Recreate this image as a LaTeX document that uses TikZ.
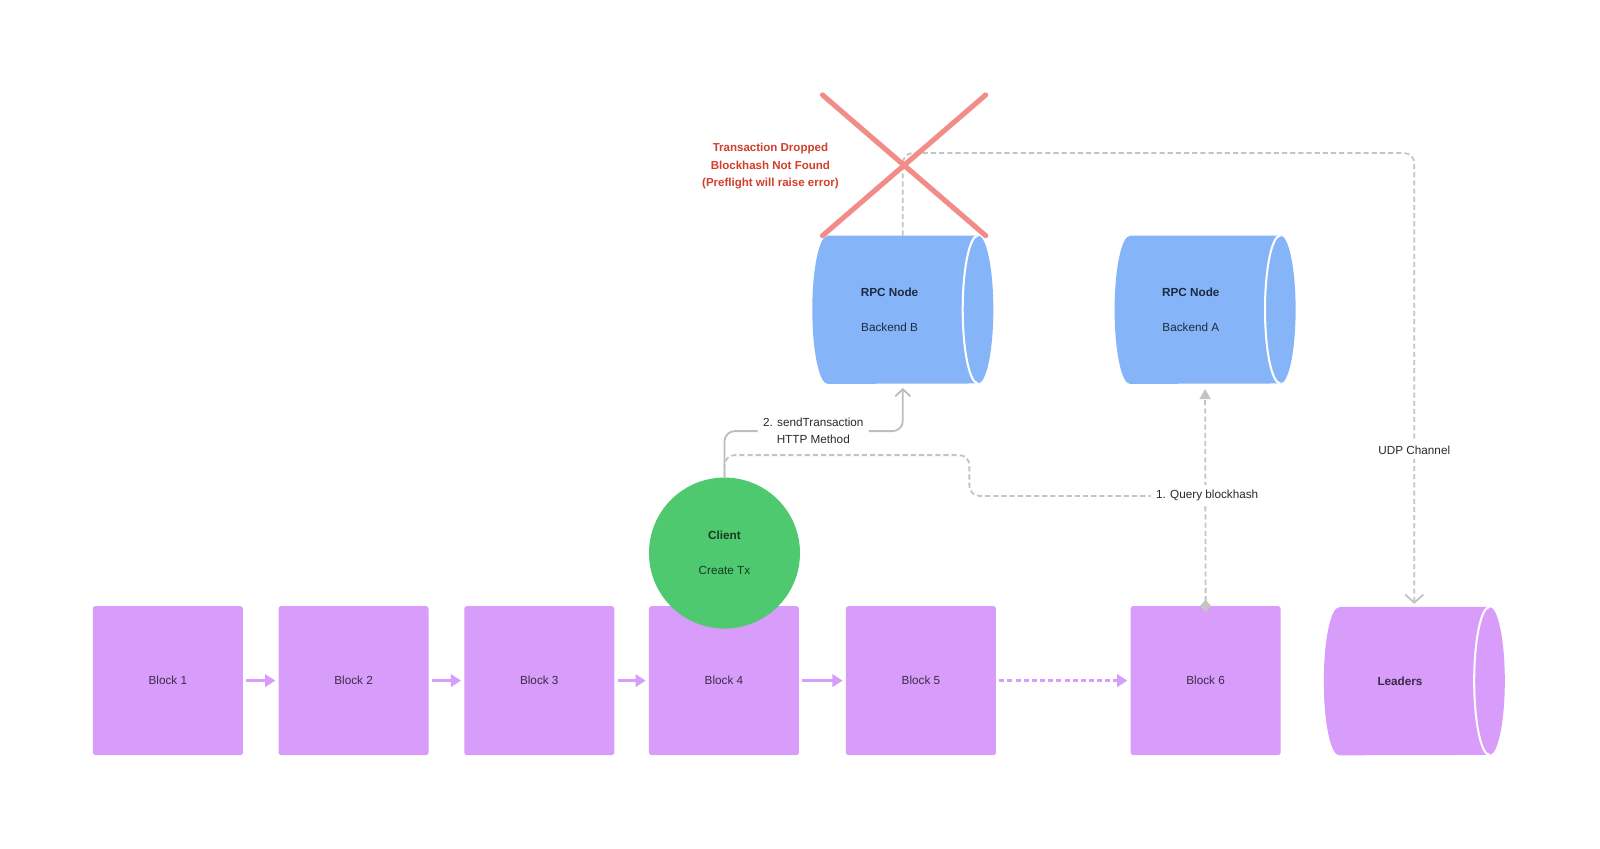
\documentclass[tikz,border=0pt]{standalone}
\usepackage{fontspec}
\setmainfont{Liberation Sans}
\usetikzlibrary{arrows.meta,backgrounds}
\definecolor{blk}{HTML}{D89CFA}
\definecolor{blktxt}{HTML}{3B2A4A}
\definecolor{rpc}{HTML}{85B5F8}
\definecolor{rpctxt}{HTML}{1E2A40}
\definecolor{cli}{HTML}{4FC96F}
\definecolor{clitxt}{HTML}{173A20}
\definecolor{xred}{HTML}{F28C88}
\definecolor{errtxt}{HTML}{D13F2D}
\definecolor{conn}{HTML}{C4C4C4}
\definecolor{sconn}{HTML}{BDBDBD}
\definecolor{conntxt}{HTML}{2A2A2A}
\newcommand\cylshape[2]{%
  \fill[#2] ([xshift=15pt]#1.north west) -- ([xshift=-15pt]#1.north east)
    arc[start angle=90,end angle=-90,x radius=15pt,y radius=72.5pt]
    -- ([xshift=15pt]#1.south west)
    arc[start angle=270,end angle=90,x radius=15pt,y radius=72.5pt] -- cycle;
  \draw[white,line width=2pt] ([xshift=-15pt]#1.north east)
    arc[start angle=90,end angle=270,x radius=15pt,y radius=72.5pt];
}
\begin{document}
\begin{tikzpicture}[x=1pt,y=-1pt,
  every node/.style={font=\fontsize{11.5}{13}\selectfont},
  block/.style={rectangle, rounded corners=2.5pt, fill=blk, text=blktxt,
    minimum width=147pt, minimum height=146pt, inner sep=0pt},
  cylbox/.style={rectangle, minimum width=177pt, minimum height=145pt, inner sep=0pt},
  cyltext/.style={align=center, text=#1, inner sep=0pt},
  flow/.style={draw=blk, line width=2.5pt, -{Triangle[length=10pt,width=12pt]},
    shorten <=3pt, shorten >=3pt},
  gconn/.style={draw=sconn, line width=1.8pt},
  gdash/.style={draw=conn, line width=1.8pt, dash pattern=on 5pt off 3pt},
  lbl/.style={text=conntxt, align=center, inner sep=5pt, fill=white},
]
\useasboundingbox (0,0) rectangle (1568,832);
\begin{scope}[on background layer]
  \fill[white] (0,0) rectangle (1568,832);
\end{scope}

% blocks
\node[block] (b1) at (164.5,667) {Block 1};
\node[block] (b2) at (346.5,667) {Block 2};
\node[block] (b3) at (528.5,667) {Block 3};
\node[block] (b4) at (709.5,667) {Block 4};
\node[block] (b5) at (902.5,667) {Block 5};
\node[block] (b6) at (1181.5,667) {Block 6};
\draw[flow] (b1) -- (b2);
\draw[flow] (b2) -- (b3);
\draw[flow] (b3) -- (b4);
\draw[flow] (b4) -- (b5);
\draw[flow, dash pattern=on 5pt off 3pt] (b5) -- (b6);

% cylinders
\node[cylbox, label={[cyltext=rpctxt, xshift=-13pt]center:{\textbf{RPC Node}\\[21pt]Backend B}}] (rpcB) at (884.75,303.5) {};
\node[cylbox, label={[cyltext=rpctxt, xshift=-14pt]center:{\textbf{RPC Node}\\[21pt]Backend A}}] (rpcA) at (1181,303.5) {};
\node[cylbox, minimum height=145pt, label={[cyltext=blktxt, xshift=-14pt]center:{\textbf{Leaders}}}] (leaders) at (1386,667.5) {};
\begin{scope}[on background layer]
  \cylshape{rpcB}{rpc}
  \cylshape{rpcA}{rpc}
  \cylshape{leaders}{blk}
\end{scope}

% client
\node[circle, fill=cli, minimum size=148pt, inner sep=0pt, text=clitxt, align=center] (client) at (710,542) {\textbf{Client}\\[21pt]Create Tx};

% query blockhash
\draw[gdash, {Diamond[length=12pt,width=11pt,fill=conn,color=conn]}-{Triangle[length=10pt,width=11pt,fill=conn,color=conn]},
  shorten <=-6pt, shorten >=5pt] (b6.north) -- (rpcA.south);
\node[lbl] (qlbl) at (1183,486) {1. Query blockhash};
\draw[gdash, rounded corners=10pt] (client.north) |- (950,446) |- (qlbl.west);

% sendTransaction
\node[lbl, fill=none, font=\fontsize{11.5}{17}\selectfont] (sendlbl) at (797,422.5) {2. sendTransaction\\HTTP Method};
\draw[gconn, rounded corners=10pt] (client.north) |- (sendlbl.west);
\draw[gconn, rounded corners=10pt, -{Straight Barb[length=7pt,width=15pt]}, shorten >=4pt] (sendlbl.east) -| (rpcB.south);

% UDP channel
\draw[gdash, rounded corners=10pt, -{Straight Barb[length=8pt,width=18pt,color=conn]}, shorten >=3pt] (rpcB.north) |- (1386,150) -- (leaders.north);
\node[lbl] (udplbl) at (1386,441) {UDP Channel};

% dropped cross
\coordinate (xtl) at (806,93);
\coordinate (xbr) at (966,231);
\coordinate (xtr) at (966,93);
\coordinate (xbl) at (806,231);
\draw[xred, line width=5pt, line cap=round] (xtl) -- (xbr);
\draw[xred, line width=5pt, line cap=round] (xtr) -- (xbl);
\node[text=errtxt, align=center, font=\bfseries\fontsize{11.3}{17}\selectfont] (err) at (755,163)
  {Transaction Dropped\\Blockhash Not Found\\(Preflight will raise error)};
\end{tikzpicture}
\end{document}
